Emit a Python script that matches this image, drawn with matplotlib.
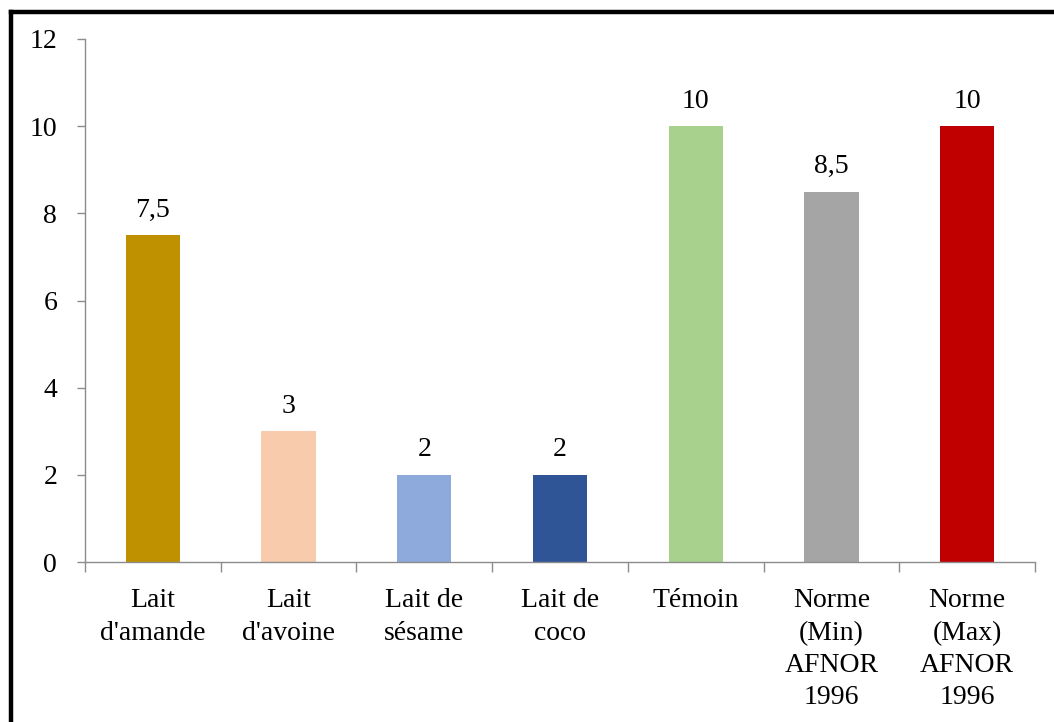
import matplotlib
matplotlib.use("Agg")
import matplotlib.pyplot as plt
from matplotlib.lines import Line2D

categories = ["Lait\nd'amande", "Lait\nd'avoine", "Lait de\nsésame", "Lait de\ncoco",
              "Témoin", "Norme\n(Min)\nAFNOR\n1996", "Norme\n(Max)\nAFNOR\n1996"]
values = [7.5, 3, 2, 2, 10, 8.5, 10]
colors = ["#BF9000", "#F8CBAD", "#8EA9DB", "#2F5597", "#A9D18E", "#A5A5A5", "#C00000"]
yticks = [0, 2, 4, 6, 8, 10, 12]

plt.rcParams["font.family"] = ["Liberation Serif", "DejaVu Serif"]

fig = plt.figure(figsize=(10.54, 7.22), dpi=100)
ax = fig.add_axes([85 / 1054, 1 - 562 / 722, 950 / 1054, 523 / 722])

x = list(range(len(categories)))
bars = ax.bar(x, values, width=0.4, color=colors)

def fmt(v):
    s = f"{v:g}"
    return s.replace(".", ",")

ax.bar_label(bars, labels=[fmt(v) for v in values], padding=9, fontsize=20)

ax.set_xlim(-0.5, len(categories) - 0.5)
ax.set_ylim(0, 12)
ax.set_yticks(yticks)
ax.set_yticklabels([str(t) for t in yticks])

ax.set_xticks(x)
ax.set_xticklabels(categories, fontsize=20, linespacing=1.38)
ax.tick_params(axis="x", length=0, pad=19)
ax.set_xticks([i - 0.5 for i in range(len(categories) + 1)], minor=True)
ax.tick_params(axis="x", which="minor", length=7, width=1, color="#8C8C8C", direction="out")
ax.tick_params(axis="y", length=6, width=1, color="#8C8C8C", labelsize=20, pad=14)

for side in ("top", "right"):
    ax.spines[side].set_visible(False)
for side in ("left", "bottom"):
    ax.spines[side].set_color("#8C8C8C")
    ax.spines[side].set_linewidth(1)

# Outer frame (left and top edges)
lw = 3.2
fig.add_artist(Line2D([11 / 1054, 11 / 1054], [-0.1, 1 - 11.5 / 722], color="black",
                      linewidth=lw, transform=fig.transFigure, solid_capstyle="projecting"))
fig.add_artist(Line2D([11 / 1054, 1.1], [1 - 11.5 / 722, 1 - 11.5 / 722], color="black",
                      linewidth=lw, transform=fig.transFigure, solid_capstyle="projecting"))

fig.savefig("out.png", dpi=100, facecolor="white")
